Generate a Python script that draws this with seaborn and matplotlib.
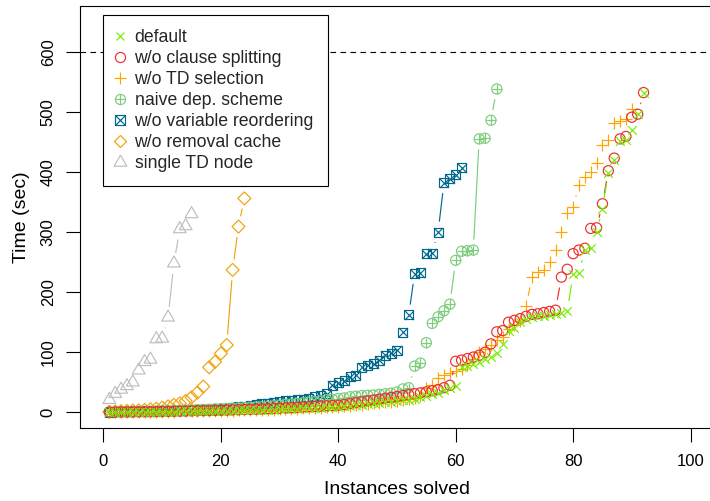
import numpy as np
import pandas as pd
import matplotlib
matplotlib.use("Agg")
import matplotlib.pyplot as plt
import seaborn as sns
from matplotlib.lines import Line2D
from matplotlib.path import Path
from matplotlib.legend_handler import HandlerTuple

# series values: time (sec) of the i-th solved instance
default = [0.3, 0.4, 0.5, 0.6, 0.7, 0.8, 0.9, 1.0, 1.1, 1.2,
           1.3, 1.4, 1.5, 1.6, 1.7, 1.8, 2.0, 2.2, 2.4, 2.6,
           2.8, 3.0, 3.2, 3.4, 3.6, 3.8, 4.0, 4.3, 4.6, 5.0,
           5.4, 5.8, 6.2, 6.6, 7.0, 7.5, 8.0, 8.5, 9.0, 9.5,
           10, 11, 12, 13, 14, 15, 16, 17, 18, 19,
           20, 21, 23, 25, 27, 30, 33, 37, 41, 44,
           75, 77, 80, 84, 88, 92, 98, 114, 135, 140,
           150, 155, 158, 160, 161, 162, 164, 166, 168, 230,
           232, 270, 273, 300, 339, 399, 420, 452, 453, 469, 497, 532]
no_split = [0.5, 0.6, 0.7, 0.8, 0.9, 1.0, 1.1, 1.2, 1.3, 1.5,
            1.6, 1.8, 2.0, 2.2, 2.4, 2.6, 2.8, 3.0, 3.2, 3.5,
            3.8, 4.1, 4.4, 4.7, 5.0, 5.4, 5.8, 6.2, 6.6, 7.0,
            7.5, 8.0, 8.5, 9.0, 9.5, 10, 10.5, 11, 11.5, 12,
            13, 14.5, 16, 17.5, 19, 20.5, 22, 23.5, 25, 26.5,
            28, 29.5, 31, 32.5, 34, 36, 38, 41, 45,
            85, 87, 89.5, 92, 95, 100, 114, 134, 136, 150,
            153, 156, 160, 163, 164, 166, 168, 170,
            225, 238, 264, 270, 273, 306, 307, 347, 402, 423,
            455, 459, 491, 496, 532]
no_td_sel = [0.3, 0.4, 0.5, 0.6, 0.7, 0.8, 0.9, 1.0, 1.1, 1.2,
             1.3, 1.4, 1.5, 1.6, 1.7, 1.8, 2.0, 2.2, 2.4, 2.6,
             2.8, 3.0, 3.2, 3.4, 3.6, 3.8, 4.0, 4.3, 4.6, 5.0,
             5.4, 5.8, 6.2, 6.6, 7.0, 7.5, 8.0, 8.5, 9.0, 9.5,
             10, 11, 12, 13, 14, 15, 16, 17, 18, 19,
             20, 22, 24, 27, 40, 45, 58, 62, 65, 68,
             72, 78, 88, 100, 106, 112, 120, 126, 138, 145,
             152, 177, 225, 234, 237, 250, 270, 300, 331, 342,
             378, 392, 400, 414, 445, 453, 481, 484, 488, 504]
naive_dep = [0.5, 0.7, 0.9, 1.1, 1.3, 1.5, 1.7, 1.9, 2.1, 2.4,
             2.7, 3.0, 3.3, 3.6, 4.0, 4.4, 4.8, 5.2, 5.6, 6.0,
             6.5, 7.0, 7.5, 8.0, 8.5, 9.0, 9.5, 10, 11, 12,
             13, 14, 15, 16, 17, 18, 19, 21, 22, 23, 24, 26,
             27, 28, 28.5, 29, 30, 31, 32, 34, 39, 41,
             77, 82, 116, 148, 159, 169, 180, 253, 268, 269,
             270, 455, 456, 486, 538]
no_reorder = [0.5, 0.7, 0.9, 1.1, 1.3, 1.5, 1.7, 1.9, 2.1, 2.4,
              2.7, 3.0, 3.3, 3.6, 4.0, 4.4, 4.8, 5.2, 5.6, 6.0,
              7, 8, 9, 10, 11, 12.5, 14, 15.5, 17, 18,
              19, 20, 21, 22, 23, 26, 28, 31,
              45, 49, 53, 59, 62, 75, 78, 81, 87, 95,
              98, 103, 133, 162, 231, 232, 264, 265, 300, 382,
              389, 395, 407]
no_cache = [1, 1.5, 2, 2.5, 3, 3.5, 4, 5, 6, 8,
            10, 12.5, 15, 19, 25, 33, 43, 75, 84, 98,
            112, 237, 309, 356]
single_td = [21, 31, 38, 44, 50, 70, 84, 88, 122, 123,
             158, 248, 305, 310, 330]

labels = ["default", "w/o clause splitting", "w/o TD selection",
          "naive dep. scheme", "w/o variable reordering",
          "w/o removal cache", "single TD node"]
series = [default, no_split, no_td_sel, naive_dep, no_reorder, no_cache, single_td]
colors = ["#76EE00", "#EE2C2C", "#FFA500", "#7CCD7C", "#00688B", "#F0A30A", "#BEBEBE"]
timeout = 600

tri = Path([(-1, -0.577), (1, -0.577), (0, 1.155), (-1, -0.577)],
           [Path.MOVETO, Path.LINETO, Path.LINETO, Path.CLOSEPOLY])
# (marker, size in pt, outline only) parts of each symbol
symbols = [
    [("x", 6.2, False)],
    [("o", 7.3, True)],
    [("+", 8.6, False)],
    [("o", 7.3, True), ("+", 7.3, False)],
    [("s", 6.5, True), ("x", 6.5, False)],
    [("D", 6.6, True)],
    [(tri, 10.6, True)],
]

sns.set_theme(style="ticks")
plt.rcParams["font.family"] = ["Liberation Sans", "DejaVu Sans"]

fig = plt.figure(figsize=(7.10, 5.01), dpi=100)
ax = fig.add_axes([80 / 710, 1 - 428 / 501, 634 / 710, 422 / 501])
ax.set_xlim(-4, 104)
ax.set_ylim(-26, 676)

ax.axhline(timeout, color="black", lw=0.8, ls=(0, (5, 4)))

lw = 0.85
gap = 10.5  # px, like R type="b"
for vals, col, sym in reversed(list(zip(series, colors, symbols))):
    x = np.arange(1, len(vals) + 1)
    y = np.array(vals, dtype=float)
    pts = ax.transData.transform(np.column_stack([x, y]))
    inv = ax.transData.inverted()
    for p0, p1 in zip(pts[:-1], pts[1:]):
        d = np.hypot(*(p1 - p0))
        if d > 2 * gap:
            u = (p1 - p0) / d
            seg = inv.transform(np.array([p0 + u * gap, p1 - u * gap]))
            ax.plot(seg[:, 0], seg[:, 1], color=col, lw=lw, solid_capstyle="butt")
    df = pd.DataFrame({"x": x, "y": y})
    for m, size, hollow in sym:
        if hollow:
            sns.scatterplot(data=df, x="x", y="y", marker=m, s=size ** 2, ax=ax,
                            color=col, facecolor="none", edgecolor=col, linewidth=lw)
        else:
            sns.scatterplot(data=df, x="x", y="y", marker=m, s=size ** 2, ax=ax,
                            color=col, linewidth=lw)

handles = []
for col, sym in zip(colors, symbols):
    parts = tuple(Line2D([], [], ls="none", marker=m, markersize=size, color=col,
                         mfc="none", mec=col, mew=lw) for m, size, _ in sym)
    handles.append(parts)
leg = ax.legend(handles, labels, handler_map={tuple: HandlerTuple(ndivide=1)},
                loc="upper left", bbox_to_anchor=(0, (412 - 15) / 0.6),
                bbox_transform=ax.transData, borderaxespad=0,
                fontsize=12.7, frameon=True, fancybox=False, framealpha=1,
                edgecolor="black", borderpad=0.8, labelspacing=0.23,
                handlelength=0.3, handletextpad=0.66)
leg.get_frame().set_linewidth(0.8)

ax.set_xticks(range(0, 101, 20))
ax.set_yticks(range(0, 601, 100))
ax.tick_params(direction="out", length=10, width=0.8, color="black",
               labelcolor="black")
ax.tick_params(axis="x", pad=9, labelsize=12)
ax.tick_params(axis="y", pad=7.5, labelsize=12)
plt.setp(ax.get_yticklabels(), rotation=90, va="center")
for s in ax.spines.values():
    s.set_visible(True)
    s.set_linewidth(0.8)
    s.set_color("black")
ax.set_xlabel("Instances solved", fontsize=14, labelpad=8, color="black")
ax.set_ylabel("Time (sec)", fontsize=14, labelpad=7.5, color="black")

fig.savefig("out.png", dpi=100)
